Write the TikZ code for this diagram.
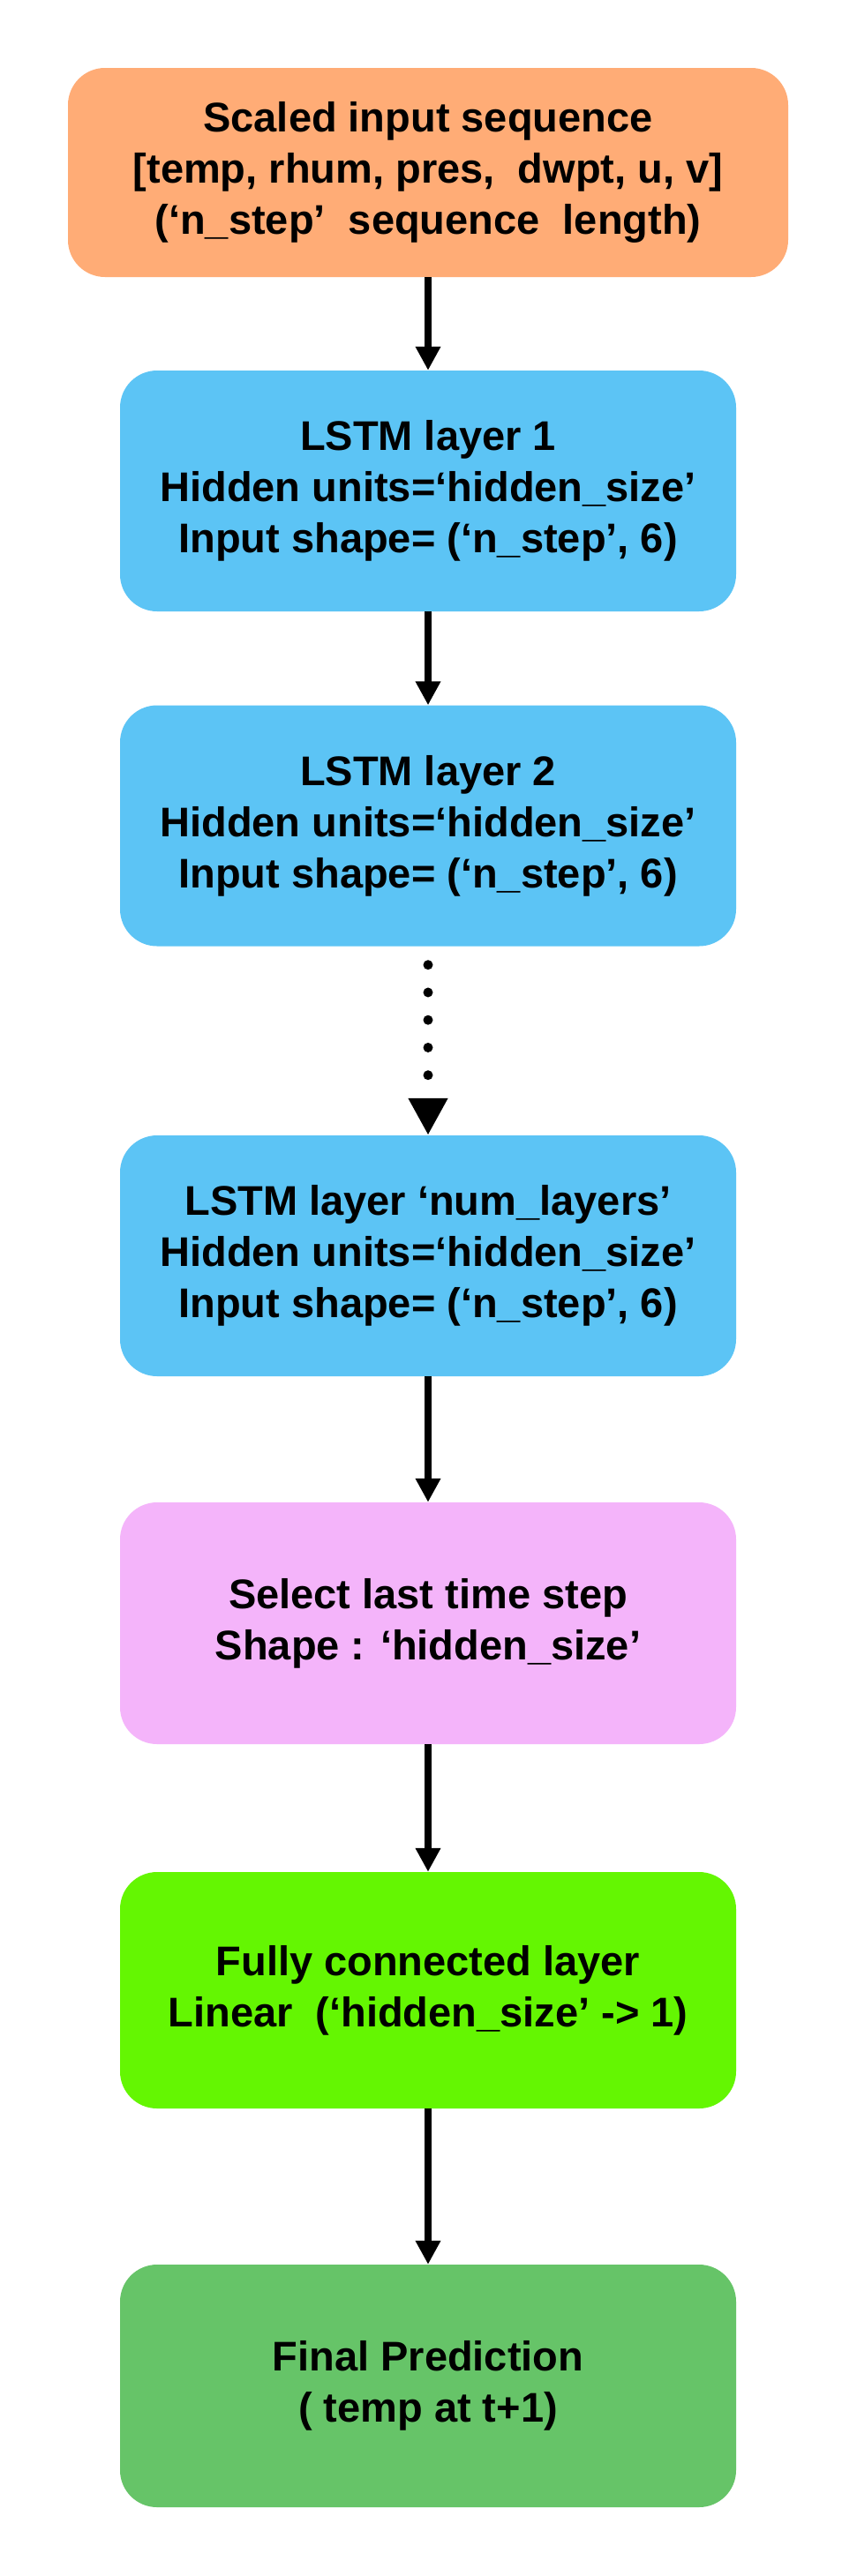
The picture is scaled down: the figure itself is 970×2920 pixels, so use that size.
\documentclass[tikz,border=0pt]{standalone}
\usepackage{fontspec}
\setmainfont{Liberation Sans}
\usetikzlibrary{arrows.meta}
\definecolor{cin}{RGB}{255,172,118}
\definecolor{clstm}{RGB}{92,196,245}
\definecolor{csel}{RGB}{244,180,250}
\definecolor{cfc}{RGB}{100,246,2}
\definecolor{cout}{RGB}{102,196,104}
\begin{document}
\begin{tikzpicture}[x=1pt,y=-1pt,
  box/.style={rounded corners=42pt, inner sep=0pt, align=center,
    font=\fontsize{47}{58}\selectfont\bfseries, text=black},
  wbox/.style={box, minimum width=816pt, minimum height=237pt},
  lbox/.style={box, minimum width=698pt, minimum height=273pt},
  conn/.style={line width=7.5pt, -{Triangle[length=27pt,width=27pt]}},
  dotconn/.style={line width=11pt, line cap=round, dash pattern=on 0pt off 31.25pt,
    -{Triangle[length=42pt,width=42pt]}}]
\useasboundingbox (0,0) rectangle (970,2920);
\fill[white] (0,0) rectangle (970,2920);

\node[wbox, fill=cin] (in) at (485,195.5)
  {Scaled input sequence\\{[}temp, rhum, pres, \ dwpt, u, v{]}\\(‘n\_step’ \ sequence \ length)};
\node[lbox, fill=clstm] (l1) at (485,556.5)
  {LSTM layer 1\\Hidden units=‘hidden\_size’\\Input shape= (‘n\_step’, 6)};
\node[lbox, fill=clstm] (l2) at (485,936)
  {LSTM layer 2\\Hidden units=‘hidden\_size’\\Input shape= (‘n\_step’, 6)};
\node[lbox, fill=clstm] (l3) at (485,1423.5)
  {LSTM layer ‘num\_layers’\\Hidden units=‘hidden\_size’\\Input shape= (‘n\_step’, 6)};
\node[lbox, fill=csel, minimum height=274pt] (sel) at (485,1840)
  {Select last time step\\Shape : ‘hidden\_size’};
\node[lbox, fill=cfc, minimum height=268pt] (fc) at (485,2256)
  {Fully connected layer\\Linear \ (‘hidden\_size’ -{}> 1)};
\node[lbox, fill=cout, minimum height=275pt] (out) at (485,2704.5)
  {Final Prediction\\( temp at t+1)};

\draw[conn] (in.south) -- (l1.north);
\draw[conn] (l1.south) -- (l2.north);
\draw[dotconn] ([yshift=-21pt]l2.south) -- (l3.north);
\draw[conn] (l3.south) -- (sel.north);
\draw[conn] (sel.south) -- (fc.north);
\draw[conn] (fc.south) -- (out.north);
\end{tikzpicture}
\end{document}
